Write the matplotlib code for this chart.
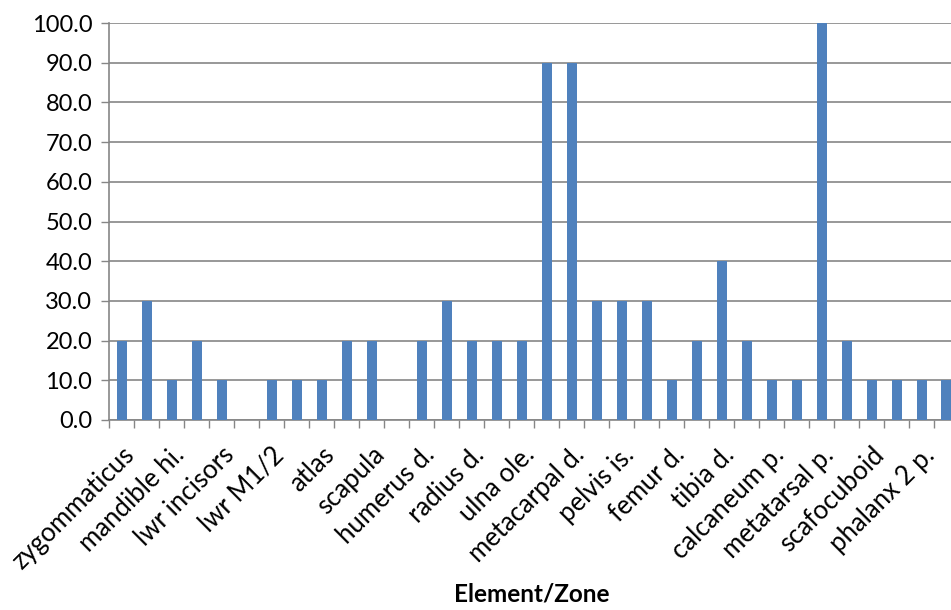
import matplotlib
matplotlib.use("Agg")
import matplotlib.pyplot as plt
import numpy as np

# Percentage representation per element/zone (one bar per zone)
values = [20, 30, 10, 20, 10, 0, 10, 10, 10, 20, 20, 0, 20, 30, 20, 20, 20,
          90, 90, 30, 30, 30, 10, 20, 40, 20, 10, 10, 100, 20, 10, 10, 10, 10]

# Category names shown on the axis (every second zone is labelled)
shown_labels = ["zygommaticus", "mandible hi.", "lwr incisors", "lwr M1/2", "atlas",
                "scapula", "humerus d.", "radius d.", "ulna ole.", "metacarpal d.",
                "pelvis is.", "femur d.", "tibia d.", "calcaneum p.", "metatarsal p.",
                "scafocuboid", "phalanx 2 p."]

yticks = [0, 10, 20, 30, 40, 50, 60, 70, 80, 90, 100]

plt.rcParams['font.family'] = ['Lato', 'DejaVu Sans']

W, H = 951, 610
fig = plt.figure(figsize=(W / 100, H / 100), dpi=100)
left, right, bottom, top = 109, 959, 420, 23
ax = fig.add_axes([left / W, 1 - bottom / H, (right - left) / W, (bottom - top) / H])

n = len(values)
x = np.arange(n)
ax.bar(x, values, width=0.4, color="#4F81BD", zorder=3)

ax.set_xlim(-0.5, n - 0.5)
ax.set_ylim(0, 100)

grid_c = "#868686"
ax.set_yticks(yticks)
ax.set_yticklabels([f"{v:.1f}" for v in yticks], fontsize=17)
ax.yaxis.grid(True, color=grid_c, linewidth=1.2, zorder=0)
ax.tick_params(axis="y", direction="out", length=6, width=1, color=grid_c, pad=6)

# Boundary tick marks between categories, labels on every second category
ax.set_xticks(np.arange(n + 1) - 0.5, minor=True)
ax.tick_params(axis="x", which="minor", direction="out", length=6, width=1, color=grid_c)
ax.set_xticks(x[::2])
ax.set_xticklabels(shown_labels, rotation=45, ha="right", va="top",
                   rotation_mode="anchor", fontsize=18.5)
ax.tick_params(axis="x", which="major", length=0, pad=16)

for s in ["top", "right"]:
    ax.spines[s].set_visible(False)
for s in ["left", "bottom"]:
    ax.spines[s].set_color(grid_c)
    ax.spines[s].set_linewidth(1.2)

ax.set_xlabel("Element/Zone", fontsize=17.5, fontweight="bold")
ax.xaxis.set_label_coords((532 - left) / (right - left), -(582 - bottom) / (bottom - top))

fig.savefig("out.png", dpi=100)
